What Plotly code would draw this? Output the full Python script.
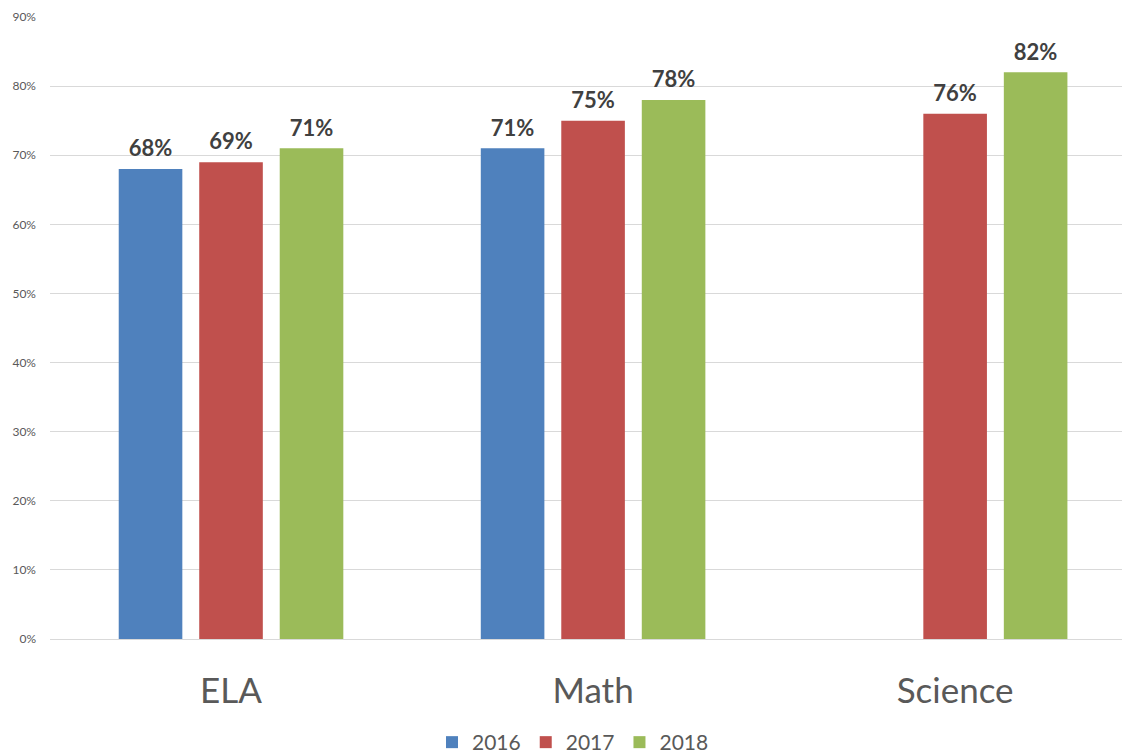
import plotly.graph_objects as go

categories = ["ELA", "Math", "Science"]
years = ["2016", "2017", "2018"]
values_2016 = [0.68, 0.71, None]
values_2017 = [0.69, 0.75, 0.76]
values_2018 = [0.71, 0.78, 0.82]
y_ticks = [0, 0.1, 0.2, 0.3, 0.4, 0.5, 0.6, 0.7, 0.8, 0.9]

colors = ["#4F81BD", "#C0504D", "#9BBB59"]
series = [values_2016, values_2017, values_2018]

FONT = "Lato, Liberation Sans, sans-serif"

fig = go.Figure()
for name, vals, col in zip(years, series, colors):
    fig.add_trace(go.Bar(
        x=categories, y=vals, name=name, offsetgroup=name,
        marker=dict(color=col, line=dict(width=0)),
        hoverinfo="skip",
    ))
for name, vals in zip(years, series):
    fig.add_trace(go.Scatter(
        x=categories, y=vals, offsetgroup=name, mode="markers+text",
        marker=dict(size=10, color="rgba(0,0,0,0)"),
        texttemplate="%{y:.0%}", textposition="top center",
        textfont=dict(family=FONT, size=22, color="#404040", weight="bold"),
        showlegend=False, cliponaxis=False, hoverinfo="skip",
    ))

fig.update_layout(
    width=1130, height=755,
    margin=dict(l=42, r=8, t=9, b=124, autoexpand=False),
    paper_bgcolor="white", plot_bgcolor="white",
    barmode="group", bargap=0.333, bargroupgap=0.21,
    scattermode="group", scattergap=0.333,
    font=dict(family=FONT, color="#595959"),
    showlegend=True,
    legend=dict(orientation="h", x=0.5, xanchor="center", xref="container",
                y=0.0, yanchor="bottom", yref="container",
                font=dict(size=21, color="#595959"), itemwidth=30,
                traceorder="normal"),
    xaxis=dict(range=[-0.5, 2.483], showgrid=False, showline=False, ticks="",
               automargin=False,
               tickfont=dict(size=35, color="#595959"), ticklabelstandoff=28),
    yaxis=dict(range=[0, 0.9], tickvals=y_ticks, tickformat=".0%",
               automargin=False,
               gridcolor="#D9D9D9", gridwidth=1, zeroline=True,
               zerolinecolor="#D9D9D9", zerolinewidth=1,
               tickfont=dict(size=12, color="#595959"), ticklabelstandoff=13),
)

fig.write_html("out.html")
